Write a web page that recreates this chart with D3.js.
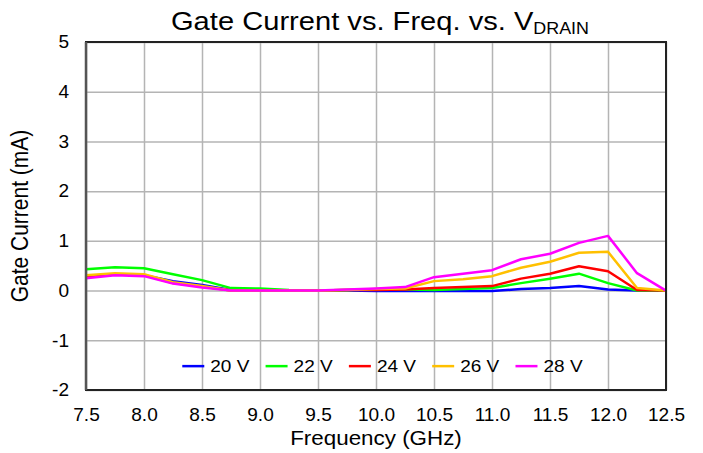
<!DOCTYPE html>
<html>
<head>
<meta charset="utf-8">
<script src="https://cdn.jsdelivr.net/npm/d3@7"></script>
<style>
  body { margin: 0; background: #fff; }
  svg text { font-family: "Liberation Sans", Arial, sans-serif; fill: #000; }
  .grid line { stroke: #b4b4b4; stroke-width: 1.5; }
  .line { fill: none; stroke-width: 2.5; stroke-linejoin: round; }
</style>
</head>
<body>
<svg id="chart" width="703" height="453"></svg>
<script>
// frequency points (GHz) and gate current (mA) per drain voltage
var freqs = [7.5, 7.75, 8.0, 8.25, 8.5, 8.75, 9.0, 9.25, 9.5, 9.75, 10.0,
             10.25, 10.5, 10.75, 11.0, 11.25, 11.5, 11.75, 12.0, 12.25, 12.5];
var v20 = [0.29, 0.33, 0.31, 0.19, 0.11, 0.01, 0, 0, 0, 0, -0.01,
           -0.01, -0.01, -0.01, -0.01, 0.03, 0.05, 0.09, 0.02, 0, 0];
var v22 = [0.43, 0.47, 0.45, 0.33, 0.21, 0.05, 0.04, 0.01, 0, 0.01, 0.02,
           0.02, 0.01, 0.03, 0.05, 0.15, 0.24, 0.34, 0.15, 0, 0];
var v24 = [0.28, 0.33, 0.31, 0.15, 0.08, 0, 0, 0, 0, 0.01, 0.01,
           0.02, 0.05, 0.07, 0.09, 0.24, 0.34, 0.49, 0.39, 0.01, 0];
var v26 = [0.31, 0.35, 0.33, 0.17, 0.09, 0, 0, 0, 0, 0.01, 0.03,
           0.04, 0.19, 0.23, 0.29, 0.46, 0.58, 0.76, 0.78, 0.05, 0];
var v28 = [0.25, 0.31, 0.29, 0.14, 0.06, 0, 0, 0, 0, 0.02, 0.04,
           0.07, 0.27, 0.34, 0.41, 0.63, 0.74, 0.96, 1.10, 0.35, 0];

var seriesNames = ["20 V", "22 V", "24 V", "26 V", "28 V"];
var seriesColors = ["#0000ff", "#00ff00", "#ff0000", "#ffc000", "#ff00ff"];
var seriesValues = [v20, v22, v24, v26, v28];

var xTicks = [7.5, 8.0, 8.5, 9.0, 9.5, 10.0, 10.5, 11.0, 11.5, 12.0, 12.5];
var yTicks = [-2, -1, 0, 1, 2, 3, 4, 5];

// the source text is a bit wider than plain Arial
var sx = 1.12;

var svg = d3.select("#chart"),
    margin = {top: 42, right: 37, bottom: 63, left: 86},
    width = +svg.attr("width") - margin.left - margin.right,
    height = +svg.attr("height") - margin.top - margin.bottom,
    g = svg.append("g").attr("transform", "translate(" + margin.left + "," + margin.top + ")");

var x = d3.scaleLinear().domain([7.5, 12.5]).range([0, width]);
var y = d3.scaleLinear().domain([-2, 5]).range([height, 0]);

// grid
g.append("g")
    .attr("class", "grid")
    .attr("transform", "translate(0," + height + ")")
    .call(d3.axisBottom(x).tickValues(xTicks).tickSize(-height).tickFormat(""))
    .call(function(s) { s.select(".domain").remove(); });

g.append("g")
    .attr("class", "grid")
    .call(d3.axisLeft(y).tickValues(yTicks).tickSize(-width).tickFormat(""))
    .call(function(s) { s.select(".domain").remove(); });

// tick labels
g.append("g")
    .attr("transform", "translate(0," + height + ")")
    .call(d3.axisBottom(x).tickValues(xTicks).tickSize(0).tickPadding(18).tickFormat(d3.format(".1f")))
    .call(function(s) {
      s.select(".domain").remove();
      s.selectAll("text").style("font-size", "18px").attr("transform", "scale(1.06,1)");
    });

g.append("g")
    .call(d3.axisLeft(y).tickValues(yTicks).tickSize(0).tickPadding(16)
      .tickFormat(function(d) { return String(d); }))
    .call(function(s) {
      s.select(".domain").remove();
      s.selectAll("text").style("font-size", "18px").attr("transform", "scale(1.06,1)");
    });

// lines
var line = d3.line()
    .x(function(d, i) { return x(freqs[i]); })
    .y(function(d) { return y(d); });

seriesValues.forEach(function(vals, k) {
  g.append("path")
      .datum(vals)
      .attr("class", "line")
      .attr("stroke", seriesColors[k])
      .attr("d", line);
});

// frame
g.append("rect")
    .attr("width", width)
    .attr("height", height)
    .attr("fill", "none")
    .attr("stroke", "#222")
    .attr("stroke-width", 2);

g.append("line")
    .attr("x1", 0).attr("x2", 0)
    .attr("y1", 0).attr("y2", height)
    .attr("stroke", "#555")
    .attr("stroke-width", 2.5);

// legend
var legend = g.append("g")
    .attr("transform", "translate(" + (x(8.33)) + "," + y(-1.52) + ")");

seriesNames.forEach(function(name, k) {
  var item = legend.append("g").attr("transform", "translate(" + (k * 83.3) + ",0)");
  item.append("line")
      .attr("x1", 0).attr("x2", 22)
      .attr("stroke", seriesColors[k])
      .attr("stroke-width", 2.5);
  item.append("g")
      .attr("transform", "translate(28,0) scale(" + sx + ",1)")
    .append("text")
      .attr("dy", "0.35em")
      .style("font-size", "17px")
      .text(name);
});

// titles
var title = svg.append("g")
    .attr("transform", "translate(380,30) scale(" + sx + ",1)")
  .append("text")
    .attr("text-anchor", "middle")
    .style("font-size", "26px");
title.append("tspan").text("Gate Current vs. Freq. vs. V");
title.append("tspan").attr("dy", 4).style("font-size", "16px").text("DRAIN");

svg.append("g")
    .attr("transform", "translate(" + (margin.left + width / 2) + ",445) scale(" + sx + ",1)")
  .append("text")
    .attr("text-anchor", "middle")
    .style("font-size", "20px")
    .text("Frequency (GHz)");

svg.append("g")
    .attr("transform", "translate(28," + (margin.top + height / 2) + ") scale(" + sx + ",1) rotate(-90)")
  .append("text")
    .attr("text-anchor", "middle")
    .style("font-size", "21px")
    .text("Gate Current (mA)");
</script>
</body>
</html>
